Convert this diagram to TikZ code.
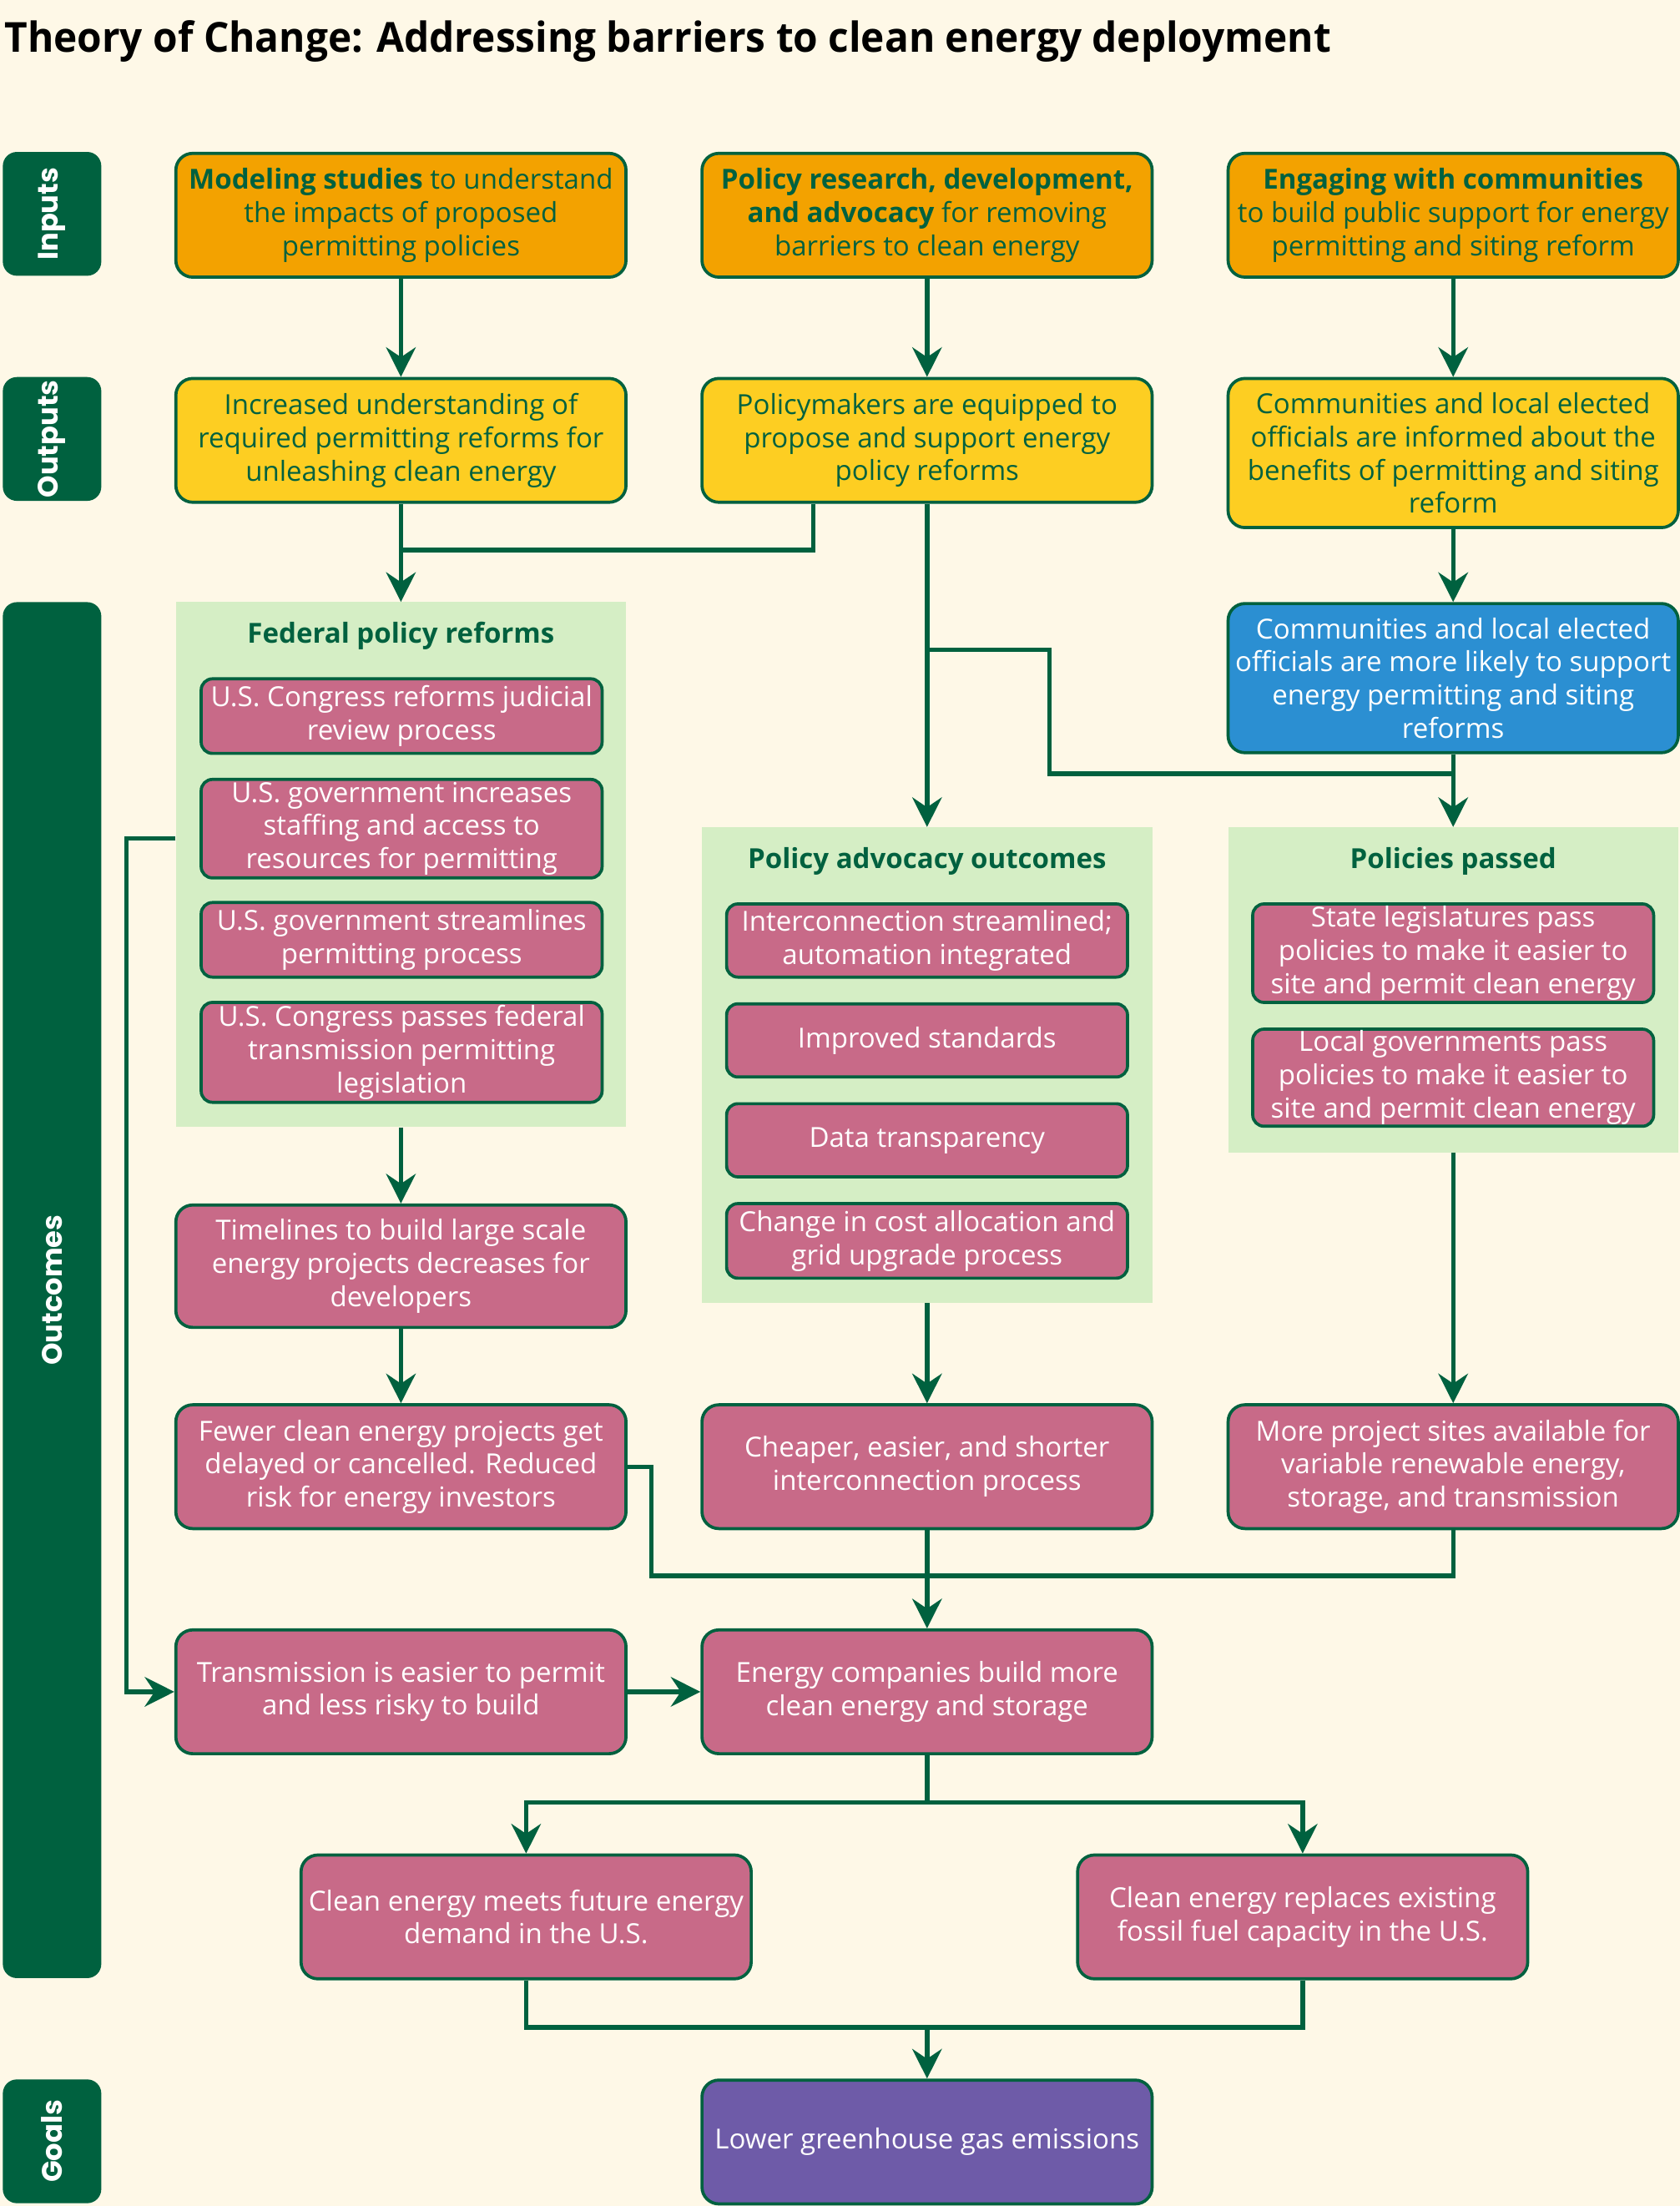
\documentclass[tikz,border=0pt]{standalone}
\usepackage{fontspec}
\usepackage{graphicx}
\setmainfont{Open Sans}
\newfontfamily\sidefont{Poppins}
\usetikzlibrary{arrows.meta}
\definecolor{bg}{HTML}{FEF8E7}
\definecolor{dgreen}{HTML}{00613F}
\definecolor{orangeC}{HTML}{F3A200}
\definecolor{yellowC}{HTML}{FDCE22}
\definecolor{pinkC}{HTML}{C86A88}
\definecolor{blueC}{HTML}{2B8FD2}
\definecolor{purpleC}{HTML}{6E5BA8}
\definecolor{lgreen}{HTML}{D5EEC5}
\newcommand{\bodyfont}{\fontsize{19.6}{23.6}\selectfont}
\begin{document}
\begin{tikzpicture}[x=1pt,y=-1pt,
  box/.style={draw=dgreen, line width=2.2pt, rounded corners=12pt, minimum width=320pt, minimum height=88pt, align=center, font=\bodyfont, inner sep=0pt},
  inbox/.style={box, fill=orangeC, text=dgreen},
  outbox/.style={box, fill=yellowC, text=dgreen},
  pinkbox/.style={box, fill=pinkC, text=white},
  bluebox/.style={box, fill=blueC, text=white},
  goalbox/.style={box, fill=purpleC, text=white},
  smallbox/.style={draw=dgreen, line width=2.2pt, rounded corners=8pt, fill=pinkC, text=white, minimum width=285pt, align=center, font=\bodyfont, inner sep=0pt},
  group/.style={fill=lgreen, minimum width=320pt, inner sep=0pt},
  grouptitle/.style={font=\bodyfont\bfseries, text=dgreen, inner sep=0pt},
  side/.style={fill=dgreen, rounded corners=10pt, text=white, font=\sidefont\fontsize{20}{24}\selectfont\bfseries, inner sep=0pt, minimum height=70pt},
  conn/.style={draw=dgreen, line width=3.2pt},
  arr/.style={conn, -{Stealth[length=21pt, width=21pt, inset=7pt]}}
]
\fill[bg] (0,0) rectangle (1194,1568);
\useasboundingbox (0,0) rectangle (1194,1568);

% title
\node[anchor=base west, inner sep=0pt] (title) at (3,37) {\resizebox{943pt}{22.5pt}{\bfseries Theory of Change: Addressing barriers to clean energy deployment}};

% side labels
\node[side, rotate=90, minimum width=88pt] (sInputs) at (37,152) {Inputs};
\node[side, rotate=90, minimum width=88pt] (sOutputs) at (37,312) {Outputs};
\node[side, rotate=90, minimum width=978pt] (sOutcomes) at (37,917) {Outcomes};
\node[side, rotate=90, minimum width=88pt] (sGoals) at (37,1522) {Goals};

% inputs
\node[inbox] (modeling) at (285,153) {\textbf{Modeling studies} to understand\\the impacts of proposed\\permitting policies};
\node[inbox] (policyres) at (659,153) {\textbf{Policy research, development,}\\\textbf{and advocacy} for removing\\barriers to clean energy};
\node[inbox] (engaging) at (1033,153) {\textbf{Engaging with communities}\\to build public support for energy\\permitting and siting reform};

% outputs
\node[outbox] (increased) at (285,313) {Increased understanding of\\required permitting reforms for\\unleashing clean energy};
\node[outbox] (policymakers) at (659,313) {Policymakers are equipped to\\propose and support energy\\policy reforms};
\node[outbox, minimum height=106pt] (informed) at (1033,322) {Communities and local elected\\officials are informed about the\\benefits of permitting and siting\\reform};

% blue
\node[bluebox, minimum height=106pt] (support) at (1033,482) {Communities and local elected\\officials are more likely to support\\energy permitting and siting\\reforms};

% groups
\node[group, minimum height=373pt] (fedgroup) at (285,614.5) {};
\node[grouptitle] (fedtitle) at (285,452) {Federal policy reforms};
\node[smallbox, minimum height=53pt] (f1) at (285.5,509) {U.S. Congress reforms judicial\\review process};
\node[smallbox, minimum height=70pt] (f2) at (285.5,589) {U.S. government increases\\staffing and access to\\resources for permitting};
\node[smallbox, minimum height=53pt] (f3) at (285.5,668) {U.S. government streamlines\\permitting process};
\node[smallbox, minimum height=71pt] (f4) at (285.5,748) {U.S. Congress passes federal\\transmission permitting\\legislation};

\node[group, minimum height=338pt] (padvgroup) at (659,757) {};
\node[grouptitle] (padvtitle) at (659,612) {Policy advocacy outcomes};
\node[smallbox, minimum height=52pt] (p1) at (659,668.5) {Interconnection streamlined;\\automation integrated};
\node[smallbox, minimum height=52pt] (p2) at (659,739.5) {Improved standards};
\node[smallbox, minimum height=52pt] (p3) at (659,810.5) {Data transparency};
\node[smallbox, minimum height=53pt] (p4) at (659,882) {Change in cost allocation and\\grid upgrade process};

\node[group, minimum height=231pt] (ppgroup) at (1033,703.5) {};
\node[grouptitle] (pptitle) at (1033,612) {Policies passed};
\node[smallbox, minimum height=70pt] (s1) at (1033,677.5) {State legislatures pass\\policies to make it easier to\\site and permit clean energy};
\node[smallbox, minimum height=69pt] (s2) at (1033,766) {Local governments pass\\policies to make it easier to\\site and permit clean energy};

% outcomes
\node[pinkbox, minimum height=87pt] (timelines) at (285,900) {Timelines to build large scale\\energy projects decreases for\\developers};
\node[pinkbox] (fewer) at (285,1042.5) {Fewer clean energy projects get\\delayed or cancelled. Reduced\\risk for energy investors};
\node[pinkbox] (cheaper) at (659,1042.5) {Cheaper, easier, and shorter\\interconnection process};
\node[pinkbox] (moresites) at (1033,1042.5) {More project sites available for\\variable renewable energy,\\storage, and transmission};
\node[pinkbox] (transmission) at (285,1202.5) {Transmission is easier to permit\\and less risky to build};
\node[pinkbox] (energyco) at (659,1202.5) {Energy companies build more\\clean energy and storage};
\node[pinkbox] (meets) at (374,1362.5) {Clean energy meets future energy\\demand in the U.S.};
\node[pinkbox] (replaces) at (926,1362.5) {Clean energy replaces existing\\fossil fuel capacity in the U.S.};
\node[goalbox] (goal) at (659,1522.5) {Lower greenhouse gas emissions};

% junction coordinates
\coordinate (jA) at (285,391);
\coordinate (jB) at (659,462);
\coordinate (jB2) at (746,550);
\coordinate (jC) at (659,1120);
\coordinate (jD) at (659,1281);
\coordinate (jE) at (659,1441);
\coordinate (jF) at (90,596);

% connectors
\draw[arr] (modeling) -- (increased);
\draw[arr] (policyres) -- (policymakers);
\draw[arr] (engaging) -- (informed);
\draw[conn] ([xshift=-81pt]policymakers.south) |- (jA);
\draw[arr] (increased) -- (fedgroup);
\draw[arr] (policymakers) -- (padvgroup);
\draw[conn] (jB) -| (jB2) -- (jB2 -| support.south);
\draw[arr] (informed) -- (support);
\draw[arr] (support) -- (ppgroup);
\draw[arr] ([yshift=18.5pt]fedgroup.west) -- (jF) |- (transmission.west);
\draw[arr] (fedgroup) -- (timelines);
\draw[arr] (timelines) -- (fewer);
\draw[arr] (padvgroup) -- (cheaper);
\draw[arr] (ppgroup) -- (moresites);
\draw[conn] (fewer.east) -- ++(17,0) |- (jC);
\draw[conn] (cheaper) -- (jC);
\draw[conn] (moresites) |- (jC);
\draw[arr] (jC) -- (energyco);
\draw[arr] (transmission) -- (energyco);
\draw[conn] (energyco) -- (jD);
\draw[arr] (jD) -| (meets);
\draw[arr] (jD) -| (replaces);
\draw[conn] (meets) |- (jE);
\draw[conn] (replaces) |- (jE);
\draw[arr] (jE) -- (goal);
\end{tikzpicture}
\end{document}
